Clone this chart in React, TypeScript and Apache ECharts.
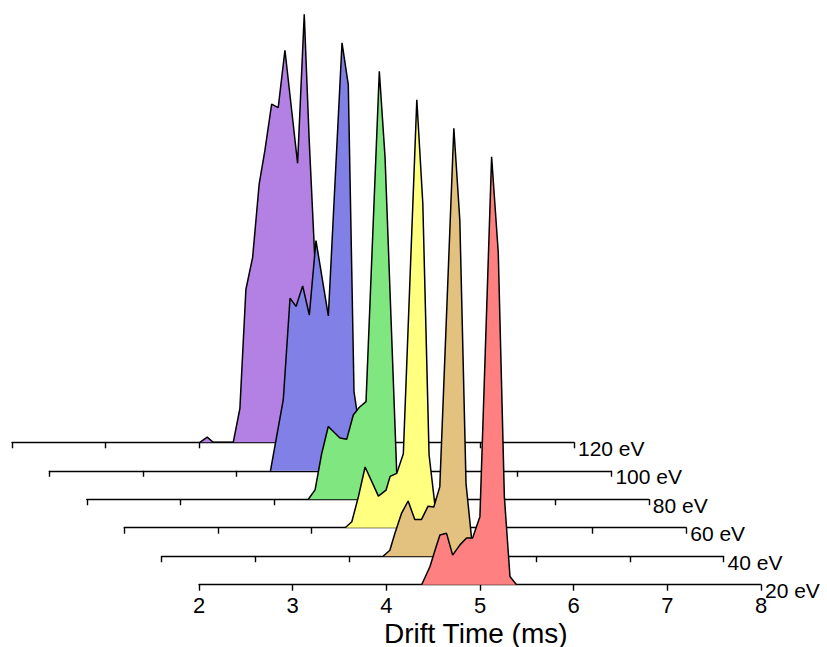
import React, { useEffect, useRef } from "react";
import * as echarts from "echarts";

// Energies (front to back)
const energies = ["20 eV", "40 eV", "60 eV", "80 eV", "100 eV", "120 eV"];
const fillColors = ["#FF8080", "#E3C17E", "#FFFF80", "#80E680", "#8080E6", "#B380E3"];
const xTicks = [2, 3, 4, 5, 6, 7, 8];

// Drift time (ms), normalized intensity
const s20: [number, number][] = [
  [4.377, 0], [4.465, 0.042], [4.519, 0.08], [4.572, 0.116], [4.643, 0.12], [4.708, 0.069],
  [4.786, 0.093], [4.857, 0.109], [4.921, 0.109], [4.999, 0.159], [5.124, 1.0], [5.195, 0.776],
  [5.26, 0.206], [5.32, 0.019], [5.39, 0],
];
const s40: [number, number][] = [
  [4.365, 0], [4.437, 0.014], [4.49, 0.053], [4.561, 0.1], [4.632, 0.129], [4.703, 0.086],
  [4.775, 0.086], [4.845, 0.117], [4.906, 0.115], [4.97, 0.162], [5.12, 1.0], [5.184, 0.785],
  [5.25, 0.17], [5.308, 0.045], [5.38, 0],
];
const s60: [number, number][] = [
  [4.359, 0], [4.43, 0.014], [4.5, 0.072], [4.572, 0.142], [4.714, 0.074], [4.796, 0.088],
  [4.839, 0.12], [4.91, 0.127], [4.98, 0.173], [5.124, 1.0], [5.188, 0.758], [5.255, 0.17],
  [5.319, 0.05], [5.38, 0],
];
const s80: [number, number][] = [
  [4.365, 0], [4.437, 0.022], [4.508, 0.107], [4.578, 0.17], [4.703, 0.143], [4.775, 0.14],
  [4.845, 0.197], [4.91, 0.215], [4.981, 0.228], [5.123, 1.0], [5.184, 0.8], [5.309, 0.061],
  [5.38, 0],
];
const s100: [number, number][] = [
  [4.36, 0], [4.497, 0.166], [4.569, 0.403], [4.633, 0.384], [4.704, 0.432], [4.775, 0.364],
  [4.846, 0.538], [4.978, 0.362], [5.124, 1.0], [5.191, 0.902], [5.252, 0.185], [5.281, 0.142],
  [5.33, 0.04], [5.38, 0],
];
const s120: [number, number][] = [
  [4.006, 0], [4.084, 0.012], [4.148, 0], [4.362, 0], [4.433, 0.079], [4.497, 0.357],
  [4.569, 0.432], [4.639, 0.604], [4.7, 0.682], [4.772, 0.79], [4.842, 0.782], [4.914, 0.916],
  [5.049, 0.652], [5.12, 1.0], [5.173, 0.706], [5.25, 0.35], [5.31, 0.05], [5.38, 0],
];
const seriesData = [s20, s40, s60, s80, s100, s120];

const FONT = "'Liberation Sans', Arial, Helvetica, sans-serif";

export default function App() {
  const ref = useRef<HTMLDivElement>(null);
  useEffect(() => {
    if (!ref.current) return;
    const chart = echarts.init(ref.current, undefined, { renderer: "svg" });
    const baseLeft = 199;
    const baseBottom = 584.7;
    const dx = 37.4;
    const dy = 28.48;
    const plotW = 562;
    const plotH = 428;

    const grids: any[] = [];
    const xAxes: any[] = [];
    const yAxes: any[] = [];
    const series: any[] = [];

    energies.forEach((name, i) => {
      const left = baseLeft - dx * i;
      const base = baseBottom - dy * i;
      grids.push({
        left,
        top: base - plotH,
        width: plotW,
        height: plotH,
        containLabel: false,
        outerBoundsMode: "none",
      });
      xAxes.push({
        gridIndex: i,
        type: "value",
        min: xTicks[0],
        max: xTicks[xTicks.length - 1],
        interval: 1,
        name,
        nameLocation: "end",
        nameGap: 4,
        nameMoveOverlap: false,
        nameTextStyle: {
          fontSize: 21,
          color: "#000",
          fontFamily: FONT,
          verticalAlign: "top",
          lineHeight: 12,
        },
        axisLine: { show: true, lineStyle: { color: "#000", width: 1.4 } },
        axisTick: { show: true, length: 6, lineStyle: { color: "#000", width: 1.4 } },
        axisLabel: {
          show: i === 0,
          fontSize: 22,
          color: "#000",
          fontFamily: FONT,
          margin: 10,
        },
        splitLine: { show: false },
        z: 0,
      });
      yAxes.push({ gridIndex: i, type: "value", min: 0, max: 1, show: false });
    });

    // back to front: each front series gets a higher z so its fill hides the back outlines
    for (let i = energies.length - 1; i >= 0; i--) {
      series.push({
        type: "line",
        name: energies[i],
        xAxisIndex: i,
        yAxisIndex: i,
        data: seriesData[i],
        symbol: "none",
        lineStyle: { color: "#000", width: 1.5 },
        areaStyle: { color: fillColors[i], opacity: 1 },
        z: 2 + (energies.length - 1 - i),
      });
    }

    chart.setOption({
      animation: false,
      backgroundColor: "#fff",
      title: {
        text: "Drift Time (ms)",
        left: 384,
        top: 619,
        padding: 0,
        textStyle: {
          fontSize: 28,
          fontWeight: "normal",
          color: "#000",
          fontFamily: FONT,
        },
      },
      grid: grids,
      xAxis: xAxes,
      yAxis: yAxes,
      series,
    });
    return () => chart.dispose();
  }, []);
  return (
    <div
      ref={ref}
      style={{ position: "absolute", left: 0, top: 0, width: 827, height: 647 }}
    />
  );
}
